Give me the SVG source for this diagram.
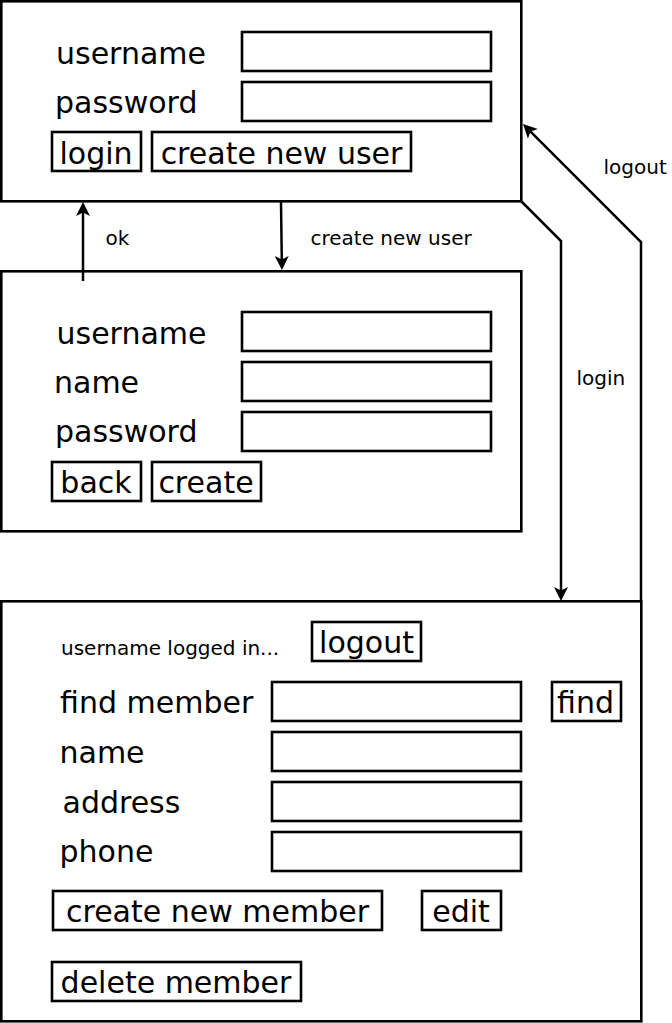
<svg xmlns="http://www.w3.org/2000/svg" width="672" height="1023" viewBox="0 0 672 1023">
  <style>
    .box { fill: #ffffff; stroke: #000000; stroke-width: 2.6; }
    .fld { fill: none; stroke: #000000; stroke-width: 2.6; }
    .big { font-family: "DejaVu Sans", "Liberation Sans", sans-serif; font-size: 30px; fill: #000000; }
    .mid { text-anchor: middle; }
    .small { font-family: "DejaVu Sans", "Liberation Sans", sans-serif; font-size: 20px; fill: #000000; }
    .edge { fill: none; stroke: #000000; stroke-width: 2.5; stroke-linejoin: miter; marker-end: url(#arrow); }
  </style>
  <defs>
    <marker id="arrow" markerUnits="userSpaceOnUse" markerWidth="16" markerHeight="16" viewBox="0 -8 16 16" refX="4" refY="0" orient="auto" overflow="visible">
      <path d="M0,-7 L14,0 L0,7 L3.5,0 Z" fill="#000000" stroke="none"/>
    </marker>
  </defs>

  <rect x="0" y="0" width="672" height="1023" fill="#ffffff"/>

  <g id="login-screen">
    <rect class="box" x="1.3" y="1.3" width="520" height="200"/>
    <text class="big" x="56" y="64">username</text>
    <rect class="fld" x="242" y="32" width="249" height="39"/>
    <text class="big" x="55" y="113">password</text>
    <rect class="fld" x="242" y="82" width="249" height="39"/>
    <g id="btn-login">
      <rect class="fld" x="52" y="132" width="89" height="39"/>
      <text class="big mid" x="96" y="164">login</text>
    </g>
    <g id="btn-create-new-user">
      <rect class="fld" x="152" y="132" width="259" height="39"/>
      <text class="big mid" x="281.5" y="164">create new user</text>
    </g>
  </g>

  <g id="create-user-screen">
    <rect class="box" x="1.3" y="271.3" width="520" height="260"/>
    <text class="big" x="56.5" y="344">username</text>
    <rect class="fld" x="242" y="312" width="249" height="39"/>
    <text class="big" x="54" y="393">name</text>
    <rect class="fld" x="242" y="362" width="249" height="39"/>
    <text class="big" x="55" y="442">password</text>
    <rect class="fld" x="242" y="412" width="249" height="39"/>
    <g id="btn-back">
      <rect class="fld" x="52" y="462" width="89" height="39"/>
      <text class="big mid" x="96" y="493">back</text>
    </g>
    <g id="btn-create">
      <rect class="fld" x="152" y="462" width="109" height="39"/>
      <text class="big mid" x="206" y="493">create</text>
    </g>
  </g>

  <g id="members-screen">
    <rect class="box" x="1.3" y="601.3" width="640" height="420"/>
    <text class="small" x="61" y="655">username logged in...</text>
    <g id="btn-logout">
      <rect class="fld" x="312" y="622" width="109" height="39"/>
      <text class="big mid" x="366.5" y="653">logout</text>
    </g>
    <text class="big" x="60" y="713">find member</text>
    <rect class="fld" x="272" y="682" width="249" height="39"/>
    <g id="btn-find">
      <rect class="fld" x="552" y="682" width="69" height="39"/>
      <text class="big mid" x="585.5" y="713">find</text>
    </g>
    <text class="big" x="59.5" y="763">name</text>
    <rect class="fld" x="272" y="732" width="249" height="39"/>
    <text class="big" x="62.5" y="813">address</text>
    <rect class="fld" x="272" y="782" width="249" height="39"/>
    <text class="big" x="59.5" y="862">phone</text>
    <rect class="fld" x="272" y="832" width="249" height="39"/>
    <g id="btn-create-new-member">
      <rect class="fld" x="53" y="891" width="329" height="39"/>
      <text class="big mid" x="217.5" y="922">create new member</text>
    </g>
    <g id="btn-edit">
      <rect class="fld" x="422" y="891" width="79" height="39"/>
      <text class="big mid" x="461" y="922">edit</text>
    </g>
    <g id="btn-delete-member">
      <rect class="fld" x="52" y="962" width="249" height="39"/>
      <text class="big mid" x="176" y="993">delete member</text>
    </g>
  </g>

  <g id="connectors">
    <path class="edge" d="M83,281 L83,212"/>
    <text class="small" x="105.5" y="245">ok</text>
    <path class="edge" d="M281,202 L281.8,260"/>
    <text class="small" x="310.5" y="245">create new user</text>
    <path class="edge" d="M521,201 L561,241 L561,591"/>
    <text class="small" x="576.5" y="385">login</text>
    <path class="edge" d="M641,601 L641,242 L530.07,131.07"/>
    <text class="small" x="603.5" y="174">logout</text>
  </g>
</svg>
